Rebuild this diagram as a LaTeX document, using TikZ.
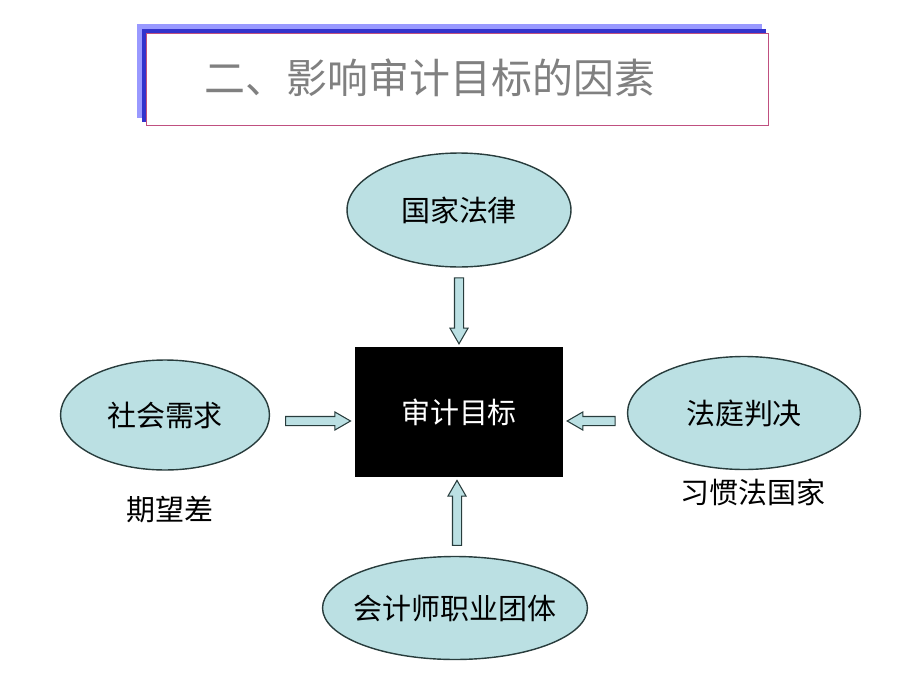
\documentclass[tikz,border=0pt]{standalone}
\usepackage{fontspec}
\setmainfont{Noto Sans CJK SC}
\usepackage{tikz}
\usetikzlibrary{shapes,shapes.arrows,positioning,calc}
\usepackage{xcolor}
\definecolor{fcteal}{RGB}{187,224,227}
\definecolor{fcedge}{RGB}{40,60,60}
\definecolor{fcgray}{RGB}{128,128,128}
\definecolor{fcblue}{RGB}{51,51,204}
\definecolor{fclightblue}{RGB}{153,153,255}
\definecolor{fcpink}{RGB}{192,80,128}
\tikzstyle{factor} = [ellipse, draw=fcedge, fill=fcteal, thick, text centered, font=\fontsize{16.5}{20}\selectfont]
\tikzstyle{goal} = [rectangle, fill=black, text=white, minimum width=4.16cm, minimum height=2.62cm, font=\fontsize{16.5}{20}\selectfont]
\tikzstyle{push} = [single arrow, draw=fcedge, fill=fcteal, semithick, inner sep=0.08cm, single arrow head extend=0.09cm, single arrow tip angle=60]
\tikzstyle{note} = [font=\fontsize{16.5}{20}\selectfont]

\begin{document}
\begin{tikzpicture}[x=0.02cm, y=-0.02cm]
\useasboundingbox (0,0) rectangle (920,690);
% Title frame
\fill[fclightblue] (137,24) rectangle (762,118);
\fill[fcblue] (142,29) rectangle (766,122);
\draw[fcpink, fill=white] (146,33) rectangle (768,125);
\node (title) [text=fcgray, font=\fontsize{23.3}{28}\selectfont] at (430,78) {二、影响审计目标的因素};

% Factors
\node (goal) [goal] at (459,412) {审计目标};
\node (law) [factor, minimum width=4.48cm, minimum height=2.28cm] at (459,210) {国家法律};
\node (society) [factor, minimum width=4.18cm, minimum height=2.2cm] at (165,415) {社会需求};
\node (court) [factor, minimum width=4.66cm, minimum height=2.26cm] at (744,413) {法庭判决};
\node (profession) [factor, minimum width=5.3cm, minimum height=2.06cm] at (455,608) {\makebox[0pt]{会计师职业团体}};

\node (gap) [note] at (170,510) {期望差};
\node (common) [note] at (753,492) {习惯法国家};

% Arrows
\node (a1) [push, rotate=-90, minimum height=1.32cm] at ($(law.south)!0.5!(goal.north)$) {};
\node (a2) [push, rotate=90, minimum height=1.3cm] at ($(goal.south)!0.5!(profession.north)$) {};
\node (a3) [push, minimum height=1.3cm] at ($(society.east |- 0,421)!0.52!(goal.west |- 0,421)$) {};
\node (a4) [push, rotate=180, minimum height=0.96cm] at ($(goal.east |- 0,421)!0.5!(court.west |- 0,421)$) {};
\end{tikzpicture}
\end{document}
